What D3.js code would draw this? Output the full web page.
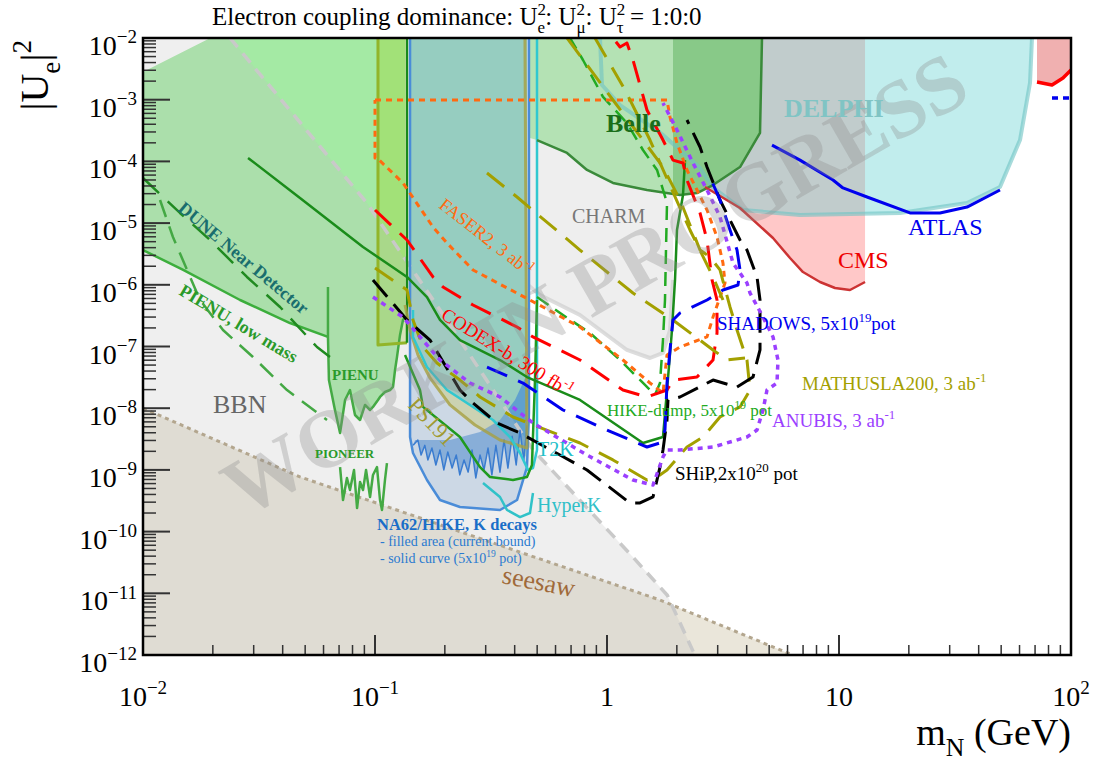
<!DOCTYPE html>
<html>
<head>
<meta charset="utf-8">
<script src="https://cdn.jsdelivr.net/npm/d3@7"></script>
<style>
  body { margin: 0; background: #fff; }
  text { font-family: "Liberation Serif", "Times New Roman", serif; }
</style>
</head>
<body>
<svg id="chart"></svg>
<script>
// every curve is a list of [m_N (GeV), |U_e|^2] points

// axis ticks
const xTickValues = [0.01, 0.1, 1, 10, 100];
const xTickBase = ["10", "10", "1", "10", "10"];
const xTickExp = ["\u22122", "\u22121", "", "", "2"];
const yTickPowers = [-2, -3, -4, -5, -6, -7, -8, -9, -10, -11, -12];

// theory / cosmology
const seesaw = [[0.01, 1e-8], [0.0475, 7.7e-10], [1.69, 7.8e-12], [6.3, 1e-12]];
const bbnEdge = [[0.0237, 1e-2], [0.0924, 2.1e-5], [0.1906, 3.9e-7], [0.48, 2.1e-9], [1.29, 3.9e-11], [1.82, 9.3e-12], [2.39, 1e-12]];

// PIENU / PIONEER / peak searches (green, low mass)
const greenTop = [[0.01, 2.81e-3], [0.0195, 1e-2], [0.1347, 1e-2]];
const greenLow = [[0.01, 3.66e-6], [0.0149, 1.74e-6], [0.0262, 5.67e-7], [0.043, 2.4e-7], [0.0627, 1.43e-7]];
const pienu = [[0.0627, 9.21e-7], [0.0627, 1.43e-7], [0.0633, 2.86e-8], [0.0672, 9.35e-9], [0.0707, 3.96e-9], [0.0743, 1.36e-8],
  [0.078, 1.97e-8], [0.082, 7.76e-9], [0.0862, 6.44e-9], [0.0906, 1.13e-8], [0.0952, 9.35e-9], [0.098, 1.05e-8], [0.103, 1.36e-8],
  [0.1051, 1.52e-8], [0.1104, 1.83e-8], [0.1161, 1.97e-8], [0.1196, 2.21e-8], [0.122, 4.16e-8], [0.1244, 6.76e-8], [0.1282, 1.54e-7],
  [0.132, 2.69e-7], [0.1347, 2.9e-7]];
const pioneer = [[0.0707, 1.11e-9], [0.0728, 3.25e-10], [0.0757, 7.39e-10], [0.078, 4.72e-10], [0.0812, 9.96e-10], [0.0837, 2.41e-10],
  [0.0862, 6.37e-10], [0.0888, 4.72e-10], [0.0915, 9.96e-10], [0.0952, 3.64e-10], [0.098, 8.27e-10], [0.102, 1.11e-9],
  [0.1051, 3.25e-10], [0.1072, 2.24e-10], [0.1104, 6.86e-10], [0.1126, 1.29e-9]];
const oliveBand = [[0.103, 1e-2], [0.103, 1.06e-7], [0.1374, 1.15e-7], [0.1374, 1e-2]];
const pienuLow = [[0.01184, 2.37e-5], [0.01346, 5.95e-6], [0.01761, 5.67e-7], [0.02212, 1.85e-7], [0.02979, 6.76e-8], [0.04175, 1.97e-8], [0.0621, 6.44e-9]];
const duneND = [[0.01, 5.38e-5], [0.01443, 1.46e-5], [0.01945, 5.32e-6], [0.02807, 1.34e-6], [0.03896, 4.37e-7], [0.05623, 9.81e-8], [0.06397, 6.76e-8]];

// kaon decays region
const ps191 = [[0.1347, 4.71e-7], [0.1416, 1.85e-7], [0.1532, 7.28e-8], [0.1726, 3.09e-8], [0.2104, 1.13e-8], [0.2698, 5.34e-9],
  [0.3457, 3.05e-9], [0.4519, 2.26e-9], [0.443, 1e-2]];
const t2k = [[0.1458, 3.9e-7], [0.1458, 1.43e-7], [0.1675, 4.65e-8], [0.2043, 1.97e-8], [0.2567, 1.13e-8], [0.3225, 6.44e-9],
  [0.3818, 3.41e-9], [0.4217, 1.88e-9], [0.4564, 1.0e-9], [0.4797, 1.07e-9], [0.4992, 2.1e-9], [0.4992, 1e-2]];
const hyperK = [[0.2921, 6.13e-10], [0.3457, 3.64e-10], [0.3707, 2.24e-10], [0.4217, 1.72e-10], [0.4655, 2.0e-10], [0.4797, 4.22e-10]];
const na62Proj = [[0.1416, 1e-2], [0.1416, 3.41e-9], [0.1458, 1.88e-9], [0.1675, 6.86e-10], [0.1906, 3.25e-10], [0.2324, 2.5e-10],
  [0.3457, 2.24e-10], [0.4094, 3.25e-10], [0.4519, 1.11e-9], [0.4609, 8.36e-9], [0.4609, 1e-2]];
const na62Top = [[0.4609, 4.16e-8], [0.43, 2.38e-8], [0.4013, 1.36e-8], [0.3457, 6.44e-9], [0.2836, 4.1e-9], [0.2104, 3.05e-9], [0.1488, 3.05e-9]];
const na62Jag = [[0.146, 2.5e-9], [0.153, 3.05e-9], [0.158, 1.74e-9], [0.164, 2.5e-9], [0.169, 1.45e-9], [0.176, 2.26e-9], [0.183, 1.2e-9],
  [0.1906, 2.1e-9], [0.198, 1.0e-9], [0.206, 1.95e-9], [0.215, 1.07e-9], [0.224, 1.74e-9], [0.232, 8.3e-10], [0.242, 1.45e-9],
  [0.252, 9.2e-10], [0.262, 2.1e-9], [0.272, 7.4e-10], [0.2835, 1.74e-9], [0.295, 1.0e-9], [0.307, 2.26e-9], [0.319, 8.3e-10],
  [0.332, 2.5e-9], [0.3457, 9.2e-10], [0.36, 3.05e-9], [0.374, 1.07e-9], [0.39, 3.5e-9], [0.406, 1.2e-9], [0.4217, 4.4e-9],
  [0.438, 1.45e-9], [0.452, 5.3e-9]];
const hikeK = [[0.1347, 7.28e-8], [0.1563, 1.97e-8], [0.161, 1.05e-8], [0.2324, 3.41e-9], [0.2836, 1.11e-9], [0.3131, 7.67e-10],
  [0.3934, 6.86e-10], [0.4519, 7.67e-10], [0.4748, 1.2e-9], [0.4894, 2.86e-8], [0.4992, 5.67e-7]];

// beam dump / collider exclusions
const charm = [[0.1594, 1e-2], [0.1594, 2.85e-5], [0.1814, 1.63e-5], [0.2836, 4.42e-6], [0.5143, 6.83e-7], [0.7648, 3.24e-7],
  [1.219, 8.78e-8], [1.532, 6.51e-8], [1.743, 7.85e-8], [1.869, 1.85e-7], [1.925, 1.2e-6], [1.925, 1e-2]];
const belle = [[0.4655, 1e-2], [0.4655, 2.4e-4], [0.4992, 2.22e-4], [0.6724, 1.37e-4], [0.82, 7.26e-5], [1.061, 4.47e-5],
  [1.487, 3.44e-5], [2.064, 2.85e-5], [2.443, 3.07e-5], [2.864, 4.14e-5], [3.744, 8.11e-5], [4.566, 2.89e-4], [4.657, 1e-2]];
const delphi = [[0.9329, 1e-2], [0.9515, 1.73e-3], [1.138, 8.2e-4], [1.743, 2.68e-4], [2.517, 7.82e-5], [2.836, 3.85e-5],
  [3.857, 1.63e-5], [6.79, 1.35e-5], [18.32, 1.46e-5], [35.63, 2.12e-5], [49.43, 3.85e-5], [60.28, 2.22e-4], [66.58, 1.87e-3], [67.91, 1e-2]];
const cms = [[1.925, 1e-2], [12.95, 1e-2], [12.95, 1.11e-6], [11.15, 8.23e-7], [9.612, 8.87e-7], [8.282, 1.11e-6], [6.995, 1.61e-6],
  [6.15, 2.72e-6], [5.194, 5.73e-6], [3.744, 1.76e-5], [2.645, 3.85e-5], [1.925, 3.44e-5]];
const cmsHigh = [[71.36, 1e-2], [71.36, 1.94e-3], [82.82, 1.73e-3], [92.36, 2.25e-3], [100, 3.03e-3], [100, 1e-2]];
const atlas = [[5.143, 1.84e-4], [6.79, 1.05e-4], [9.422, 4.99e-5], [10.4, 3.71e-5], [13.21, 2.65e-5], [20.23, 1.46e-5],
  [27.25, 1.46e-5], [35.63, 1.82e-5], [49.43, 3.44e-5]];
const atlasDisplaced = [[82.82, 1.07e-3], [100, 1.07e-3]];

// future sensitivities
const dune = [[0.02836, 1.14e-4], [0.0475, 2.55e-5], [0.08879, 4.1e-6], [0.1374, 1.34e-6], [0.1675, 6.34e-7], [0.1906, 2.69e-7],
  [0.2324, 1.27e-7], [0.3457, 6.04e-8], [0.4519, 3.2e-8], [0.7648, 1.36e-8], [1.429, 2.73e-9], [1.743, 3.41e-9], [1.814, 1.97e-8],
  [1.906, 1.85e-7], [1.964, 1.2e-6], [2.003, 7.73e-6], [2.126, 2.85e-5], [2.169, 1.05e-4]];
const hikeDump = [[0.4992, 6.34e-7], [0.6461, 3.24e-7], [0.8446, 1.66e-7], [1.138, 6.04e-8], [1.458, 2.38e-8], [1.61, 1.64e-8],
  [1.692, 2.56e-8], [1.743, 1.27e-7], [1.778, 5.67e-7], [1.796, 3.66e-6], [1.814, 2.12e-5], [1.643, 7.26e-5], [1.429, 1.53e-4],
  [1.219, 4.19e-4], [0.9612, 1.11e-3], [0.8446, 2.71e-3], [0.788, 4.4e-3], [0.6927, 1e-2]];
const faser2 = [[0.1, 9.89e-4], [1.814, 9.89e-4], [1.869, 5.24e-4], [2.003, 1.99e-4], [2.212, 7.26e-5], [2.443, 3.44e-5],
  [2.698, 1.63e-5], [2.98, 5.95e-6], [3.162, 2.25e-6], [3.226, 1.07e-6], [2.864, 3.0e-7], [2.698, 1.43e-7], [2.064, 9.81e-8],
  [1.814, 7.28e-8], [1.743, 1.76e-8], [1.532, 2.56e-8], [1.172, 6.04e-8], [0.7648, 2.07e-7], [0.4655, 5.67e-7], [0.2645, 1.74e-6],
  [0.2043, 4.76e-6], [0.1778, 8.65e-6], [0.132, 4.47e-5], [0.102, 1.14e-4], [0.1, 1.14e-4], [0.1, 9.89e-4]];
const codexb = [[0.1, 1.63e-5], [0.1374, 5.32e-6], [0.1778, 1.34e-6], [0.1964, 9.21e-7], [0.2645, 4.71e-7], [0.4094, 2.07e-7],
  [0.4797, 1.43e-7], [0.7648, 6.04e-8], [1.172, 1.97e-8], [1.487, 1.52e-8], [1.814, 1.97e-8], [1.925, 2.86e-8], [2.443, 3.2e-8],
  [2.864, 6.04e-8], [2.98, 1.66e-7], [2.98, 5.67e-7], [2.836, 1.2e-6], [2.698, 5.32e-6], [2.517, 1.46e-5], [2.212, 4.99e-5],
  [2.126, 9.42e-5], [1.925, 1.05e-4], [1.743, 2.22e-4], [1.487, 6.81e-4], [1.294, 4.4e-3], [1.219, 8.3e-3], [1.138, 7.15e-3], [1.061, 1e-2]];
const mathusla = [[0.1, 1.87e-6], [0.1374, 8.23e-7], [0.1458, 2.69e-7], [0.161, 9.81e-8], [0.185, 5.4e-8], [0.2324, 2.86e-8],
  [0.2836, 1.52e-8], [0.3934, 7.2e-9], [0.7648, 2.73e-9], [1.061, 1.45e-9], [1.487, 6.86e-10], [1.643, 7.67e-10], [1.814, 9.96e-10],
  [2.212, 2.35e-9], [2.593, 3.41e-9], [3.069, 7.2e-9], [3.744, 1.05e-8], [4.134, 1.97e-8], [4.012, 6.04e-8], [3.634, 1.85e-7],
  [3.39, 4.37e-7], [3.069, 1.74e-6], [2.78, 2.82e-6], [2.517, 3.66e-6], [2.064, 2.37e-5], [1.743, 8.11e-5], [1.429, 2.22e-4],
  [1.061, 9.89e-4], [0.6724, 1e-2]];
const mathuslaMid = [[0.3039, 6.49e-5], [0.4094, 2.65e-5], [0.7648, 3.66e-6], [1.294, 7.36e-7], [1.925, 2.69e-7], [2.864, 8.78e-8], [3.29, 6.04e-8], [3.934, 6.51e-8]];
const mathuslaUp = [[0.8877, 1e-2], [1.196, 1.44e-3], [1.532, 2.22e-4], [1.906, 3.44e-5], [2.279, 7.73e-6], [2.864, 1.34e-6], [3.162, 5.67e-7]];
const ship = [[0.098, 1.2e-6], [0.1374, 2.69e-7], [0.1726, 1.27e-7], [0.2324, 1.97e-8], [0.2645, 1.21e-8], [0.3356, 5.76e-9],
  [0.4217, 3.96e-9], [0.627, 1.74e-9], [0.82, 9.96e-10], [1.256, 2.91e-10], [1.388, 2.91e-10], [1.579, 3.64e-10], [1.692, 1.11e-9],
  [1.743, 2.1e-9], [1.814, 6.44e-9], [1.832, 1.36e-8], [2.064, 1.52e-8], [2.864, 2.86e-8], [3.634, 2.21e-8], [4.259, 3.2e-8],
  [4.566, 8.78e-8], [4.566, 5.67e-7], [4.432, 1.34e-6], [4.012, 3.66e-6], [3.744, 5.32e-6], [3.069, 2.37e-5], [2.698, 8.11e-5],
  [2.517, 1.71e-4], [2.212, 4.69e-4]];
const shadows = [[0.3039, 4.65e-8], [0.4342, 2.56e-8], [0.6461, 9.35e-9], [1.0, 4.43e-9], [1.487, 2.35e-9], [1.692, 2.73e-9],
  [1.778, 4.43e-9], [1.814, 2.56e-8], [1.869, 8.78e-8], [1.925, 2.69e-7], [2.064, 3.49e-7], [2.698, 5.67e-7], [3.162, 8.23e-7],
  [3.67, 9.93e-7], [3.744, 1.74e-6], [3.634, 3.66e-6], [3.39, 7.73e-6], [3.069, 2.37e-5], [2.78, 5.59e-5]];
const anubis = [[0.098, 6.34e-7], [0.132, 3.0e-7], [0.1906, 6.04e-8], [0.2567, 2.56e-8], [0.3457, 1.52e-8], [0.4797, 5.76e-9],
  [0.82, 1.74e-9], [1.294, 6.86e-10], [1.579, 5.69e-10], [1.743, 1.62e-9], [1.814, 2.1e-9], [2.064, 2.1e-9], [2.864, 2.35e-9],
  [4.012, 3.41e-9], [4.432, 4.43e-9], [4.704, 9.35e-9], [4.894, 1.97e-8], [5.404, 2.56e-8], [5.458, 6.04e-8], [5.194, 1.43e-7],
  [4.704, 3.0e-7], [4.134, 7.36e-7], [4.012, 1.07e-6], [3.493, 2.25e-6], [3.069, 1.26e-5], [2.698, 3.44e-5], [2.348, 9.42e-5],
  [2.003, 3.23e-4], [1.743, 8.84e-4]];

// Set up the dimensions for the SVG container
const svgWidth = 1101;
const svgHeight = 762;
const margin = { top: 38, right: 30, bottom: 107, left: 143 };
const width = svgWidth - margin.left - margin.right;
const height = svgHeight - margin.top - margin.bottom;
const serif = "Liberation Serif, Times New Roman, serif";

const svg = d3.select("#chart")
  .attr("width", svgWidth)
  .attr("height", svgHeight);

svg.append("rect").attr("width", svgWidth).attr("height", svgHeight).attr("fill", "#fff");

const xScale = d3.scaleLog().domain([0.01, 100]).range([0, width]);
const yScale = d3.scaleLog().domain([1e-12, 1e-2]).range([height, 0]);

const defs = svg.append("defs");
defs.append("clipPath").attr("id", "plotClip")
  .append("rect").attr("width", width).attr("height", height);
// the part of Belle that is not under the CHARM shading is drawn darker
defs.append("clipPath").attr("id", "belleDark")
  .append("rect")
  .attr("x", xScale(charm[charm.length - 1][0]))
  .attr("width", width).attr("height", height);

const chart = svg.append("g")
  .attr("transform", "translate(" + margin.left + "," + margin.top + ")");
const layer = chart.append("g").attr("clip-path", "url(#plotClip)");

const line = d3.line().x(d => xScale(d[0])).y(d => yScale(d[1]));

function fillShape(points, color, opacity, target) {
  return (target || layer).append("path")
    .attr("d", line(points) + "Z")
    .attr("fill", color)
    .attr("fill-opacity", opacity === undefined ? 1 : opacity);
}

function strokeCurve(points, color, widthPx, dash, opacity) {
  return layer.append("path")
    .attr("d", line(points))
    .attr("fill", "none")
    .attr("stroke", color)
    .attr("stroke-width", widthPx)
    .attr("stroke-dasharray", dash || null)
    .attr("stroke-opacity", opacity === undefined ? 1 : opacity)
    .attr("stroke-linejoin", "round");
}

// text with super/subscripts; a part is a string or {t, sup|sub, dx}
function richText(parent, xPos, yPos, parts, size, color) {
  const t = parent.append("text")
    .attr("x", xPos).attr("y", yPos)
    .attr("font-family", serif)
    .attr("font-size", size)
    .attr("fill", color || "#000");
  let shift = 0;
  parts.forEach(p => {
    const s = typeof p === "string" ? { t: p } : p;
    const target = s.sup ? -0.42 * size : s.sub ? 0.3 * size : 0;
    const ts = t.append("tspan").text(s.t).attr("dy", target - shift);
    if (s.sup || s.sub) ts.attr("font-size", size * 0.68);
    if (s.dx) ts.attr("dx", s.dx);
    shift = target;
  });
  return t;
}

// ---- filled regions ----
fillShape(seesaw.concat([[0.01, 1e-12]]), "#d8d2bc", 0.55);
fillShape(cms, "#ffc8c8");
fillShape(cmsHigh, "#f0b0b0");
fillShape(delphi, "rgb(100,210,210)", 0.4);
fillShape(charm, "#ececec", 0.9);
strokeCurve(charm.slice(1, 11), "#cfcfcf", 4, null, 0.7);
fillShape(belle, "#b4e2b4");
const belleDarkGroup = layer.append("g").attr("clip-path", "url(#belleDark)");
fillShape(belle, "#88c988", 1, belleDarkGroup);
strokeCurve(delphi, "rgb(110,195,195)", 4, null, 0.6);

fillShape(greenTop.concat(pienu.slice(1).reverse(), greenLow.slice().reverse()), "#a4eaa4");
fillShape(oliveBand, "rgb(160,210,40)", 0.35);
fillShape(na62Proj, "#d0e1f2");
fillShape(ps191.slice(0, 8).concat(t2k.slice(1, 8).reverse()), "#cfd8ae");
fillShape([[0.1416, 1e-2], [0.1416, 8.23e-7]].concat(t2k.slice(1, 8), [[0.4519, 1.6e-9], [0.4519, 1e-2]]), "#96cdc0");
fillShape(na62Top.concat(na62Jag), "#3f86d6", 0.62);

// BBN shading sits on top of everything to its left
fillShape(bbnEdge.concat([[0.01, 1e-12], [0.01, 1e-2]]), "rgb(190,190,190)", 0.25);

// ---- boundaries and sensitivity curves ----
strokeCurve(seesaw, "#b3a68e", 3, "4,4");
strokeCurve(bbnEdge, "#c9c9c9", 3.5, "12,8");

strokeCurve(greenLow, "#3cae3c", 2.5);
strokeCurve(pienu, "#44aa44", 2.5);
strokeCurve(pioneer, "#44aa44", 2.5);
strokeCurve(oliveBand.slice(0, 3), "#92b52a", 3);
strokeCurve(oliveBand.slice(2), "#1a8a1a", 2.5);
strokeCurve(duneND, "#208a20", 2.5, "22,12");
strokeCurve(pienuLow, "#44a844", 2.5, "18,10");

strokeCurve(na62Jag, "#3a7cd0", 1.5);
strokeCurve(na62Proj, "#4a8cd8", 2.5);
strokeCurve(ps191, "#a8a040", 3, null, 0.8);
strokeCurve(t2k, "#30c8d0", 2.5);
strokeCurve(hyperK, "#30c2c8", 2.5);
strokeCurve(hikeK, "#1f9a1f", 2.5);

strokeCurve(belle.slice(2), "#3a8a3a", 2.5);
strokeCurve(cms.slice(2, 11), "#cc3333", 2.5);
strokeCurve(cmsHigh.slice(1, 5), "#ff0000", 3.5);
strokeCurve(atlas, "#0000ee", 3);
strokeCurve(atlasDisplaced, "#0000ee", 3.5, "6,5");

strokeCurve(dune, "#1a8c1a", 2.5);
strokeCurve(hikeDump, "#22aa22", 2.5, "14,8");
strokeCurve(faser2, "#ff6a10", 3, "6,5");
strokeCurve(codexb, "#ff0000", 3, "22,12");
strokeCurve(mathusla, "#a3a000", 3, "22,12");
strokeCurve(mathuslaMid, "#a3a000", 3, "22,12");
strokeCurve(mathuslaUp, "#a3a000", 3, "22,12");
strokeCurve(ship, "#000000", 3, "22,10");
strokeCurve(shadows, "#0000ee", 3, "22,12");
strokeCurve(anubis, "#9b40ff", 3.5, "5,5");

// watermark
svg.append("text")
  .attr("x", 595).attr("y", 312)
  .attr("text-anchor", "middle")
  .attr("font-family", serif)
  .attr("font-size", 82).attr("font-weight", "bold")
  .attr("fill", "rgb(140,140,140)").attr("fill-opacity", 0.32)
  .attr("transform", "rotate(-30,595,285)")
  .text("WORK IN PROGRESS");

// ---- labels ----
function label(xPos, yPos, parts, size, color, opts) {
  const t = richText(svg, xPos, yPos, parts, size, color);
  if (opts && opts.bold) t.attr("font-weight", "bold");
  if (opts && opts.angle) t.attr("transform", "rotate(" + opts.angle + "," + xPos + "," + yPos + ")");
  return t;
}

label(177, 210, ["DUNE Near Detector"], 18, "#1a6e6e", { bold: true, angle: 40 });
label(178, 294, ["PIENU, low mass"], 18, "#2a9a2a", { bold: true, angle: 31 });
label(332, 380, ["PIENU"], 15, "#2a9a2a", { bold: true });
label(315, 458, ["PIONEER"], 13, "#2a9a2a", { bold: true });
label(213, 413, ["BBN"], 26, "#666666");
label(501, 583, ["seesaw"], 26, "#a06a3a", { angle: 11 });
label(407, 406, ["PS191"], 22, "#a09a30", { angle: 47 });
label(438, 207, ["FASER2, 3 ab", { t: "-1", sup: true }], 18, "#ff6a10", { angle: 38 });
label(440, 318, ["CODEX-b, 300 fb", { t: "-1", sup: true }], 19, "#ff0000", { angle: 32 });
label(537, 456, ["T2K"], 20, "#22c0c8");
label(537, 512, ["HyperK"], 20, "#30c0c8");
label(377, 530, ["NA62/HIKE, K decays"], 16.5, "#1a6ec8", { bold: true });
label(380, 546, ["- filled area (current bound)"], 14, "#2a7ad0");
label(380, 563, ["- solid curve (5x10", { t: "19", sup: true }, " pot)"], 14, "#2a7ad0");
label(606, 132, ["Belle"], 26, "#1a6e1a", { bold: true });
label(572, 223, ["CHARM"], 20, "#777777");
label(784, 117, ["DELPHI"], 26, "#80c4c4", { bold: true });
label(908, 235, ["ATLAS"], 24, "#0000ee");
label(838, 268, ["CMS"], 24, "#ee0000");
label(717, 330, ["SHADOWS, 5x10", { t: "19", sup: true }, "pot"], 19, "#0000ee");
label(802, 390, ["MATHUSLA200, 3 ab", { t: "-1", sup: true }], 19, "#a3a000");
label(607, 416, ["HIKE-dump, 5x10", { t: "19", sup: true }, " pot"], 17, "#22aa22");
label(772, 427, ["ANUBIS, 3 ab", { t: "-1", sup: true }], 19, "#9b40ff");
label(675, 480, ["SHiP,2x10", { t: "20", sup: true }, " pot"], 19, "#000000");

// title
richText(svg, 212, 25, ["Electron coupling dominance: U", { t: "2", sup: true }, { t: "e", sub: true, dx: -8.5 },
  ": U", { t: "2", sup: true }, { t: "\u03bc", sub: true, dx: -8.5 },
  ": U", { t: "2", sup: true }, { t: "\u03c4", sub: true, dx: -8.5 }, " = 1:0:0"], 25);

// ---- frame, ticks and axis labels ----
const tickColor = "#333";
yTickPowers.forEach(p => {
  const yy = yScale(Math.pow(10, p));
  chart.append("line").attr("x1", 0).attr("x2", 27).attr("y1", yy).attr("y2", yy)
    .attr("stroke", tickColor).attr("stroke-width", 2);
  if (p > -12) {
    for (let k = 2; k <= 9; k++) {
      const ym = yScale(k * Math.pow(10, p - 1));
      chart.append("line").attr("x1", 0).attr("x2", 13).attr("y1", ym).attr("y2", ym)
        .attr("stroke", tickColor).attr("stroke-width", 1.5);
    }
  }
  richText(svg, 137, margin.top + yy + 17, ["10", { t: "\u2212" + Math.abs(p), sup: true }], 28)
    .attr("text-anchor", "end");
});

xTickValues.forEach((v, i) => {
  const xx = xScale(v);
  chart.append("line").attr("x1", xx).attr("x2", xx).attr("y1", height).attr("y2", height - 20)
    .attr("stroke", tickColor).attr("stroke-width", 2);
  if (i < xTickValues.length - 1) {
    for (let k = 2; k <= 9; k++) {
      const xm = xScale(k * v);
      chart.append("line").attr("x1", xm).attr("x2", xm).attr("y1", height).attr("y2", height - 10)
        .attr("stroke", tickColor).attr("stroke-width", 1.5);
    }
  }
  const parts = xTickExp[i] ? [xTickBase[i], { t: xTickExp[i], sup: true }] : [xTickBase[i]];
  richText(svg, margin.left + xx, 706, parts, 28).attr("text-anchor", "middle");
});

chart.append("rect")
  .attr("width", width).attr("height", height)
  .attr("fill", "none").attr("stroke", "#000").attr("stroke-width", 2.5);

// axis titles
richText(svg, 0, 0, ["|U", { t: "e", sub: true }, "|", { t: "2", sup: true }], 40)
  .attr("text-anchor", "end")
  .attr("transform", "translate(48,40) rotate(-90)");
richText(svg, 1071, 745, ["m", { t: "N", sub: true }, " (GeV)"], 38)
  .attr("text-anchor", "end");
</script>
</body>
</html>
